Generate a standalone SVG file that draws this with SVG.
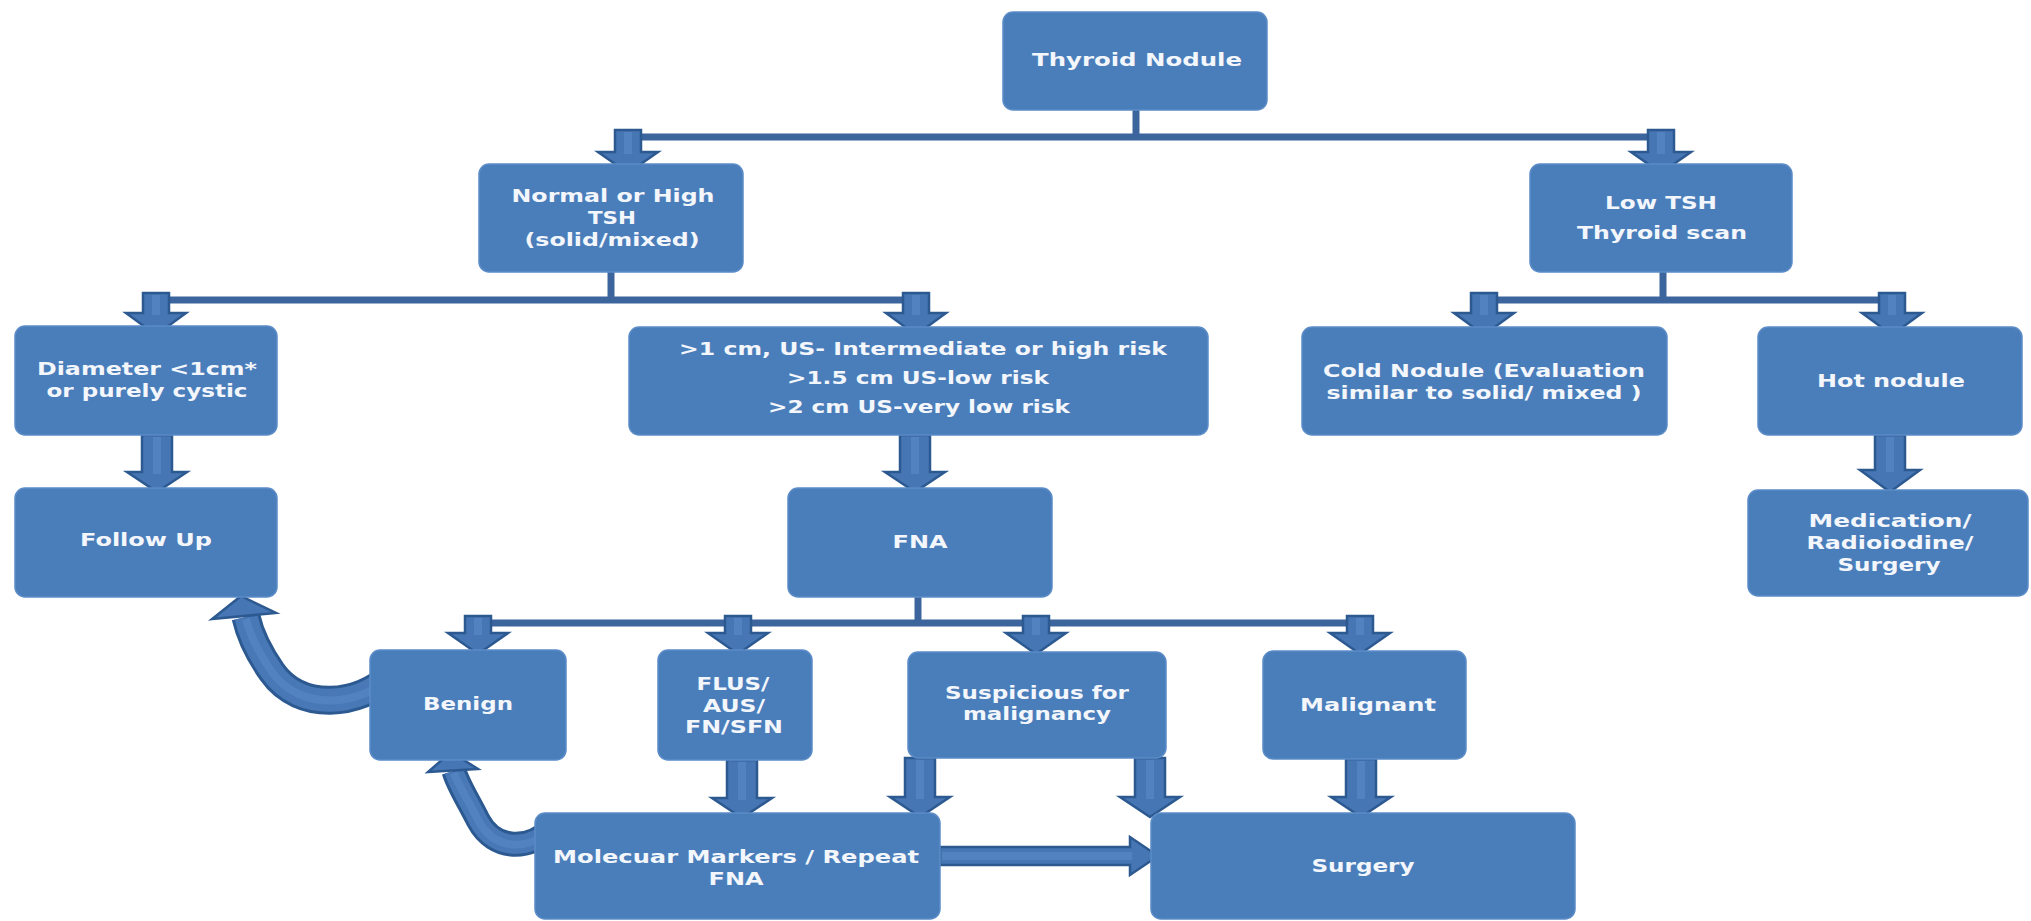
<svg xmlns="http://www.w3.org/2000/svg" width="2031" height="921" viewBox="0 0 2031 921">
<style>
.box{fill:#4a7ebb;stroke:#5b8cc7;stroke-width:1.5}
.t{font-family:"DejaVu Sans",Verdana,sans-serif;font-weight:bold;font-size:17px;fill:#f3f6fb;text-anchor:middle}
.ln{stroke:#3c659d;stroke-width:7;fill:none}
.ar{fill:#4676b4;stroke:#2d5991;stroke-width:2.5;stroke-linejoin:miter}
.st{stroke:#5282bf;stroke-width:8;fill:none}
.cvo{fill:none;stroke:#2d5991}
.cvi{fill:none;stroke:#4878b6}
</style>
<rect width="2031" height="921" fill="#ffffff"/>

<g id="connectors">
  <line class="ln" x1="1136" y1="110" x2="1136" y2="137"/>
  <line class="ln" x1="628" y1="137" x2="1661" y2="137"/>
  <line class="ln" x1="611" y1="272" x2="611" y2="300"/>
  <line class="ln" x1="156" y1="300" x2="916" y2="300"/>
  <line class="ln" x1="1663" y1="272" x2="1663" y2="300"/>
  <line class="ln" x1="1484" y1="300" x2="1892" y2="300"/>
  <line class="ln" x1="918" y1="597" x2="918" y2="623"/>
  <line class="ln" x1="478" y1="623" x2="1360" y2="623"/>

  <polygon class="ar" points="615,130 641,130 641,152 658,152 628,173 598,152 615,152"/>
  <line class="st" x1="628" y1="132" x2="628" y2="154"/>
  <polygon class="ar" points="1648,130 1674,130 1674,152 1691,152 1661,173 1631,152 1648,152"/>
  <line class="st" x1="1661" y1="132" x2="1661" y2="154"/>
  <polygon class="ar" points="143,293 169,293 169,313 186,313 156,335 126,313 143,313"/>
  <line class="st" x1="156" y1="295" x2="156" y2="315"/>
  <polygon class="ar" points="903,293 929,293 929,313 946,313 916,335 886,313 903,313"/>
  <line class="st" x1="916" y1="295" x2="916" y2="315"/>
  <polygon class="ar" points="1471,293 1497,293 1497,313 1514,313 1484,335 1454,313 1471,313"/>
  <line class="st" x1="1484" y1="295" x2="1484" y2="315"/>
  <polygon class="ar" points="1879,293 1905,293 1905,313 1922,313 1892,335 1862,313 1879,313"/>
  <line class="st" x1="1892" y1="295" x2="1892" y2="315"/>
  <polygon class="ar" points="465,616 491,616 491,633 508,633 478,654 448,633 465,633"/>
  <line class="st" x1="478" y1="618" x2="478" y2="635"/>
  <polygon class="ar" points="725,616 751,616 751,633 768,633 738,654 708,633 725,633"/>
  <line class="st" x1="738" y1="618" x2="738" y2="635"/>
  <polygon class="ar" points="1023,616 1049,616 1049,633 1066,633 1036,654 1006,633 1023,633"/>
  <line class="st" x1="1036" y1="618" x2="1036" y2="635"/>
  <polygon class="ar" points="1347,616 1373,616 1373,633 1390,633 1360,654 1330,633 1347,633"/>
  <line class="st" x1="1360" y1="618" x2="1360" y2="635"/>

  <polygon class="ar" points="142,435 172,435 172,472 187,472 157,492 127,472 142,472"/>
  <line class="st" x1="157" y1="437" x2="157" y2="474"/>
  <polygon class="ar" points="900,435 930,435 930,472 945,472 915,492 885,472 900,472"/>
  <line class="st" x1="915" y1="437" x2="915" y2="474"/>
  <polygon class="ar" points="1875,435 1905,435 1905,470 1920,470 1890,492 1860,470 1875,470"/>
  <line class="st" x1="1890" y1="437" x2="1890" y2="472"/>
  <polygon class="ar" points="727,760 757,760 757,798 772,798 742,818 712,798 727,798"/>
  <line class="st" x1="742" y1="762" x2="742" y2="800"/>
  <polygon class="ar" points="905,758 935,758 935,797 950,797 920,817 890,797 905,797"/>
  <line class="st" x1="920" y1="760" x2="920" y2="799"/>
  <polygon class="ar" points="1135,758 1165,758 1165,797 1180,797 1150,817 1120,797 1135,797"/>
  <line class="st" x1="1150" y1="760" x2="1150" y2="799"/>
  <polygon class="ar" points="1346,759 1376,759 1376,797 1391,797 1361,817 1331,797 1346,797"/>
  <line class="st" x1="1361" y1="761" x2="1361" y2="799"/>
  <polygon class="ar" points="940,847 1130,847 1130,837 1158,856 1130,875 1130,865 940,865"/>
  <line class="st" stroke-width="6" x1="942" y1="856" x2="1132" y2="856"/>

  <path class="cvo" stroke-width="29" d="M 390,676 C 360,706 300,712 272,672 C 258,652 250,635 246,617"/>
  <path class="cvi" stroke-width="23" d="M 390,676 C 360,706 300,712 272,672 C 258,652 250,635 246,617"/>
  <path class="st" d="M 388,678 C 360,706 300,712 272,672 C 258,652 250,635 246,619"/>
  <polygon class="ar" points="212,619 276,613 241,596"/>

  <path class="cvo" stroke-width="25" d="M 552,828 C 530,850 495,852 478,820 C 468,800 458,785 454,771"/>
  <path class="cvi" stroke-width="19" d="M 552,828 C 530,850 495,852 478,820 C 468,800 458,785 454,771"/>
  <path class="st" stroke-width="7" d="M 550,830 C 530,850 495,852 478,820 C 468,800 458,785 454,773"/>
  <polygon class="ar" points="428,772 478,769 451,752"/>
</g>

<g id="n-thyroid"><rect class="box" x="1003" y="12" width="264" height="98" rx="10"/>
<text class="t" x="1137" y="66" textLength="210" lengthAdjust="spacingAndGlyphs">Thyroid Nodule</text></g>

<g id="n-normal"><rect class="box" x="479" y="164" width="264" height="108" rx="10"/>
<text class="t" x="613" y="202" textLength="203" lengthAdjust="spacingAndGlyphs">Normal or High</text>
<text class="t" x="612" y="224" textLength="48" lengthAdjust="spacingAndGlyphs">TSH</text>
<text class="t" x="612" y="246" textLength="175" lengthAdjust="spacingAndGlyphs">(solid/mixed)</text></g>

<g id="n-low"><rect class="box" x="1530" y="164" width="262" height="108" rx="10"/>
<text class="t" x="1661" y="209" textLength="112" lengthAdjust="spacingAndGlyphs">Low TSH</text>
<text class="t" x="1662" y="239" textLength="170" lengthAdjust="spacingAndGlyphs">Thyroid scan</text></g>

<g id="n-diameter"><rect class="box" x="15" y="326" width="262" height="109" rx="10"/>
<text class="t" x="147" y="375" textLength="220" lengthAdjust="spacingAndGlyphs">Diameter &lt;1cm*</text>
<text class="t" x="147" y="397" textLength="201" lengthAdjust="spacingAndGlyphs">or purely cystic</text></g>

<g id="n-size"><rect class="box" x="629" y="327" width="579" height="108" rx="10"/>
<text class="t" x="923" y="355" textLength="488" lengthAdjust="spacingAndGlyphs">&gt;1 cm,  US- Intermediate or high risk</text>
<text class="t" x="918" y="384" textLength="262" lengthAdjust="spacingAndGlyphs">&gt;1.5 cm US-low risk</text>
<text class="t" x="919" y="413" textLength="302" lengthAdjust="spacingAndGlyphs">&gt;2 cm US-very low risk</text></g>

<g id="n-cold"><rect class="box" x="1302" y="327" width="365" height="108" rx="10"/>
<text class="t" x="1484" y="377" textLength="322" lengthAdjust="spacingAndGlyphs">Cold Nodule (Evaluation</text>
<text class="t" x="1484" y="399" textLength="315" lengthAdjust="spacingAndGlyphs">similar to solid/ mixed )</text></g>

<g id="n-hot"><rect class="box" x="1758" y="327" width="264" height="108" rx="10"/>
<text class="t" x="1891" y="387" textLength="148" lengthAdjust="spacingAndGlyphs">Hot nodule</text></g>

<g id="n-follow"><rect class="box" x="15" y="488" width="262" height="109" rx="10"/>
<text class="t" x="146" y="546" textLength="132" lengthAdjust="spacingAndGlyphs">Follow Up</text></g>

<g id="n-fna"><rect class="box" x="788" y="488" width="264" height="109" rx="10"/>
<text class="t" x="920" y="548" textLength="55" lengthAdjust="spacingAndGlyphs">FNA</text></g>

<g id="n-medication"><rect class="box" x="1748" y="490" width="280" height="106" rx="10"/>
<text class="t" x="1890" y="527" textLength="163" lengthAdjust="spacingAndGlyphs">Medication/</text>
<text class="t" x="1890" y="549" textLength="167" lengthAdjust="spacingAndGlyphs">Radioiodine/</text>
<text class="t" x="1889" y="571" textLength="103" lengthAdjust="spacingAndGlyphs">Surgery</text></g>

<g id="n-benign"><rect class="box" x="370" y="650" width="196" height="110" rx="10"/>
<text class="t" x="468" y="710" textLength="90" lengthAdjust="spacingAndGlyphs">Benign</text></g>

<g id="n-flus"><rect class="box" x="658" y="650" width="154" height="110" rx="10"/>
<text class="t" x="733" y="690" textLength="73" lengthAdjust="spacingAndGlyphs">FLUS/</text>
<text class="t" x="734" y="712" textLength="62" lengthAdjust="spacingAndGlyphs">AUS/</text>
<text class="t" x="734" y="733" textLength="98" lengthAdjust="spacingAndGlyphs">FN/SFN</text></g>

<g id="n-suspicious"><rect class="box" x="908" y="652" width="258" height="106" rx="10"/>
<text class="t" x="1037" y="699" textLength="184" lengthAdjust="spacingAndGlyphs">Suspicious for</text>
<text class="t" x="1037" y="720" textLength="148" lengthAdjust="spacingAndGlyphs">malignancy</text></g>

<g id="n-malignant"><rect class="box" x="1263" y="651" width="203" height="108" rx="10"/>
<text class="t" x="1368" y="711" textLength="136" lengthAdjust="spacingAndGlyphs">Malignant</text></g>

<g id="n-molecular"><rect class="box" x="535" y="813" width="405" height="106" rx="10"/>
<text class="t" x="736" y="863" textLength="366" lengthAdjust="spacingAndGlyphs">Molecuar Markers / Repeat</text>
<text class="t" x="736" y="885" textLength="55" lengthAdjust="spacingAndGlyphs">FNA</text></g>

<g id="n-surgery"><rect class="box" x="1151" y="813" width="424" height="106" rx="10"/>
<text class="t" x="1363" y="872" textLength="103" lengthAdjust="spacingAndGlyphs">Surgery</text></g>
</svg>
